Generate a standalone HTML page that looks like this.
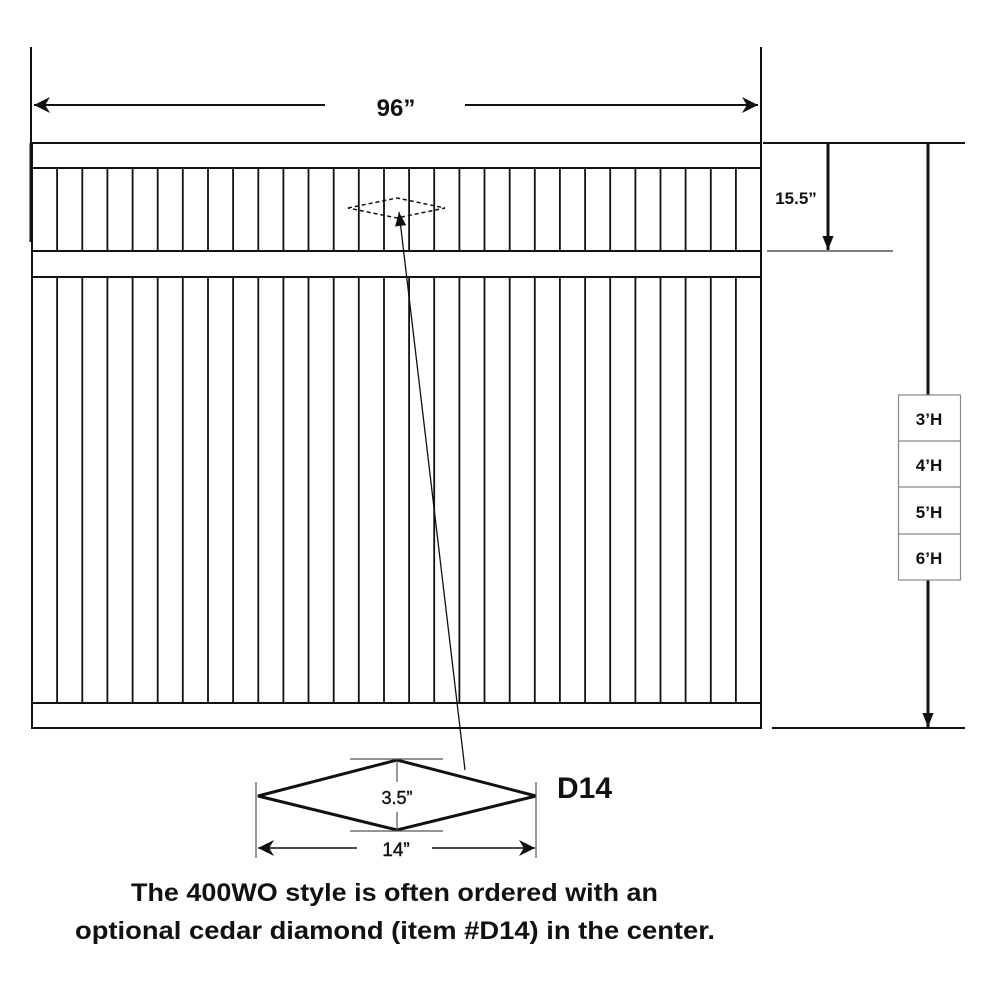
<!DOCTYPE html>
<html><head><meta charset="utf-8"><style>
html,body{margin:0;padding:0;background:#fff}
svg{display:block}
text{font-family:"Liberation Sans",sans-serif;fill:#111}
</style></head><body>
<svg width="1000" height="1000" viewBox="0 0 1000 1000" xmlns="http://www.w3.org/2000/svg">
<defs>
<marker id="a" viewBox="0 0 10 10" refX="10" refY="5" markerWidth="16" markerHeight="16" markerUnits="userSpaceOnUse" orient="auto"><path d="M0,0 L10,5 L0,10 L3,5 z" fill="#111"/></marker>
<marker id="b" viewBox="0 0 10 10" refX="10" refY="5" markerWidth="14" markerHeight="14" markerUnits="userSpaceOnUse" orient="auto"><path d="M0,1 L10,5 L0,9 z" fill="#111"/></marker>
</defs>
<g stroke="#111" fill="none">
<rect x="32" y="143" width="729" height="585" stroke-width="2"/>
<line x1="32" y1="168" x2="761" y2="168" stroke-width="2"/>
<line x1="32" y1="251" x2="761" y2="251" stroke-width="2"/>
<line x1="32" y1="277" x2="761" y2="277" stroke-width="2"/>
<line x1="32" y1="703" x2="761" y2="703" stroke-width="2"/>
<path stroke-width="1.8" d="
M57.1 168V251M57.1 277V703
M82.3 168V251M82.3 277V703
M107.4 168V251M107.4 277V703
M132.6 168V251M132.6 277V703
M157.7 168V251M157.7 277V703
M182.8 168V251M182.8 277V703
M208 168V251M208 277V703
M233.1 168V251M233.1 277V703
M258.3 168V251M258.3 277V703
M283.4 168V251M283.4 277V703
M308.5 168V251M308.5 277V703
M333.7 168V251M333.7 277V703
M358.8 168V251M358.8 277V703
M384 168V251M384 277V703
M409.1 168V251M409.1 277V703
M434.2 168V251M434.2 277V703
M459.4 168V251M459.4 277V703
M484.5 168V251M484.5 277V703
M509.7 168V251M509.7 277V703
M534.8 168V251M534.8 277V703
M559.9 168V251M559.9 277V703
M585.1 168V251M585.1 277V703
M610.2 168V251M610.2 277V703
M635.4 168V251M635.4 277V703
M660.5 168V251M660.5 277V703
M685.6 168V251M685.6 277V703
M710.8 168V251M710.8 277V703
M735.9 168V251M735.9 277V703"/>
<line x1="31" y1="47" x2="31" y2="242" stroke-width="2"/>
<line x1="31" y1="143" x2="31" y2="242" stroke-width="3"/>
<line x1="761" y1="47" x2="761" y2="143" stroke-width="2"/>
<line x1="325" y1="105" x2="34" y2="105" stroke-width="2" marker-end="url(#a)"/>
<line x1="465" y1="105" x2="758" y2="105" stroke-width="2" marker-end="url(#a)"/>
<line x1="763" y1="143" x2="965" y2="143" stroke-width="2"/>
<line x1="767" y1="251" x2="893" y2="251" stroke-width="1.5" stroke="#555"/>
<line x1="828" y1="143" x2="828" y2="250" stroke-width="3" marker-end="url(#b)"/>
<line x1="928" y1="143" x2="928" y2="395" stroke-width="3"/>
<line x1="928" y1="580" x2="928" y2="727" stroke-width="3" marker-end="url(#b)"/>
<line x1="772" y1="728" x2="965" y2="728" stroke-width="2"/>
<rect x="898.5" y="395" width="62" height="185" stroke="#888" stroke-width="1.2"/>
<line x1="898.5" y1="441" x2="960.5" y2="441" stroke="#888" stroke-width="1.2"/>
<line x1="898.5" y1="487" x2="960.5" y2="487" stroke="#888" stroke-width="1.2"/>
<line x1="898.5" y1="534" x2="960.5" y2="534" stroke="#888" stroke-width="1.2"/>
<polygon points="348,208 397,198 445,208 397,218" stroke-width="1.5" stroke-dasharray="4,3"/>
<line x1="465" y1="770" x2="399" y2="212" stroke-width="1.3" marker-end="url(#b)"/>
<polygon points="258,796 397,760 536,796 397,830" stroke-width="3"/>
<line x1="350" y1="759" x2="443" y2="759" stroke-width="1.2" stroke="#555"/>
<line x1="350" y1="831" x2="443" y2="831" stroke-width="1.2" stroke="#555"/>
<line x1="397" y1="761" x2="397" y2="782" stroke-width="1.2" stroke="#555"/>
<line x1="397" y1="812" x2="397" y2="830" stroke-width="1.2" stroke="#555"/>
<line x1="256" y1="782" x2="256" y2="858" stroke-width="1.2" stroke="#555"/>
<line x1="536" y1="782" x2="536" y2="858" stroke-width="1.2" stroke="#555"/>
<line x1="357" y1="848" x2="258" y2="848" stroke-width="1.5" marker-end="url(#a)"/>
<line x1="432" y1="848" x2="535" y2="848" stroke-width="1.5" marker-end="url(#a)"/>
</g>
<text x="396" y="116" font-size="24" font-weight="bold" text-anchor="middle">96”</text>
<text x="796" y="204" font-size="17" font-weight="bold" text-anchor="middle">15.5”</text>
<g font-size="17" font-weight="bold" text-anchor="middle">
<text x="929" y="425">3’H</text>
<text x="929" y="471">4’H</text>
<text x="929" y="518">5’H</text>
<text x="929" y="564">6’H</text>
</g>
<text x="397" y="804" font-size="18" text-anchor="middle" stroke="#111" stroke-width="0.4">3.5”</text>
<text x="396" y="856" font-size="19" text-anchor="middle" stroke="#111" stroke-width="0.4">14”</text>
<text x="557" y="798" font-size="30" font-weight="bold">D14</text>
<g style="font-family:'Liberation Sans Narrow','Liberation Sans',sans-serif" font-size="25" font-weight="bold">
<text x="131" y="901" textLength="527" lengthAdjust="spacingAndGlyphs">The 400WO style is often ordered with an</text>
<text x="75" y="939" textLength="640" lengthAdjust="spacingAndGlyphs">optional cedar diamond (item #D14) in the center.</text>
</g>
</svg>
</body></html>
